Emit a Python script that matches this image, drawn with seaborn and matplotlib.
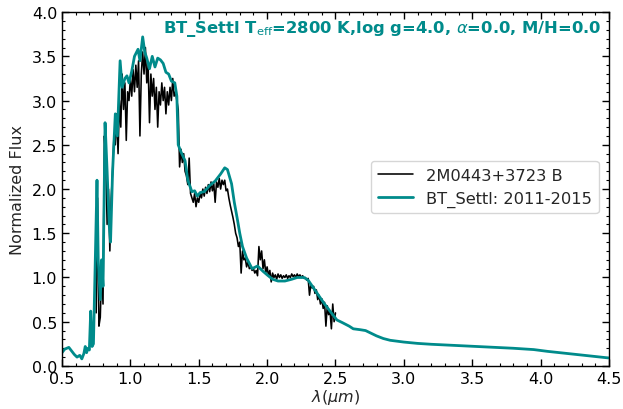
import numpy as np
import pandas as pd
import matplotlib
matplotlib.use("Agg")
import matplotlib.pyplot as plt
import seaborn as sns
from matplotlib.ticker import MultipleLocator

# ---- data ----
obs_label = "2M0443+3723 B"
model_label = "BT_Settl: 2011-2015"
obs_start = 0.75
obs_step = 0.01
obs_flux = [
    0.60, 1.90, 0.45, 0.55, 1.10, 0.70, 2.60, 2.30, 1.60, 2.00,   # 0.75-0.84
    1.30, 1.90, 2.20, 2.60, 2.50, 2.85, 2.40, 3.00, 2.70, 3.30,   # 0.85-0.94
    2.90, 3.20, 2.55, 3.10, 3.00, 3.25, 3.05, 3.35, 3.10, 3.40,   # 0.95-1.04
    3.15, 3.45, 2.60, 3.30, 3.55, 3.30, 3.60, 3.20, 3.40, 2.75,   # 1.05-1.14
    3.30, 3.05, 3.25, 2.90, 3.15, 2.70, 3.10, 2.95, 3.20, 3.00,   # 1.15-1.24
    3.15, 2.85, 3.10, 2.95, 3.15, 3.00, 3.25, 3.05, 3.10, 3.00,   # 1.25-1.34
    2.90, 2.25, 2.45, 2.30, 2.40, 2.20, 2.15, 2.05, 2.35, 1.95,   # 1.35-1.44
    1.90, 1.85, 1.95, 1.80, 1.90, 1.85, 1.95, 1.90, 2.00, 1.92,   # 1.45-1.54
    2.02, 1.95, 2.05, 1.97, 2.08, 1.98, 2.06, 1.85, 2.08, 2.02,   # 1.55-1.64
    2.12, 2.00, 2.10, 2.05, 2.10, 1.98, 2.00, 1.90, 1.82, 1.75,   # 1.65-1.74
    1.68, 1.60, 1.50, 1.45, 1.35, 1.40, 1.05, 1.30, 1.20, 1.22,   # 1.75-1.84
    1.12, 1.18, 1.10, 1.12, 1.08, 1.10, 1.05, 1.08, 1.02, 1.35,   # 1.85-1.94
    1.20, 1.30, 1.10, 1.20, 1.05, 1.12, 1.02, 1.08, 0.95, 1.05,   # 1.95-2.04
    1.00, 1.03, 0.98, 1.04, 1.00, 1.03, 0.99, 1.02, 1.00, 1.03,   # 2.05-2.14
    0.99, 1.02, 1.00, 1.04, 1.01, 1.03, 1.00, 1.04, 1.01, 1.03,   # 2.15-2.24
    1.00, 1.02, 0.99, 1.00, 0.97, 0.99, 0.80, 0.92, 0.88, 0.90,   # 2.25-2.34
    0.82, 0.86, 0.75, 0.80, 0.70, 0.76, 0.65, 0.72, 0.45, 0.68,   # 2.35-2.44
    0.58, 0.62, 0.42, 0.70, 0.50, 0.60,                           # 2.45-2.50
]

model_wave = [
    0.50, 0.52, 0.55, 0.57, 0.59, 0.61, 0.63, 0.645, 0.66, 0.67,
    0.68, 0.69, 0.70, 0.71, 0.72, 0.73, 0.745, 0.756, 0.765, 0.78,
    0.79, 0.80, 0.815, 0.83, 0.845, 0.855, 0.87, 0.89, 0.905, 0.925,
    0.94, 0.96, 0.975, 0.99, 1.01, 1.03, 1.056, 1.07, 1.09, 1.105,
    1.12, 1.14, 1.16, 1.18, 1.20, 1.22, 1.24, 1.26, 1.28, 1.30,
    1.325, 1.34, 1.35, 1.37, 1.40, 1.42, 1.45, 1.47, 1.49, 1.51,
    1.54, 1.58, 1.62, 1.66, 1.69, 1.71, 1.74, 1.76, 1.78, 1.80,
    1.82, 1.85, 1.89, 1.93, 1.97, 2.00, 2.04, 2.08, 2.13, 2.18,
    2.22, 2.27, 2.30, 2.34, 2.38, 2.42, 2.46, 2.51, 2.55, 2.60,
    2.63, 2.68, 2.72, 2.76, 2.80, 2.85, 2.90, 3.00, 3.10, 3.20,
    3.40, 3.60, 3.80, 3.95, 4.05, 4.20, 4.35, 4.50,
]
model_flux = [
    0.15, 0.19, 0.21, 0.17, 0.13, 0.10, 0.12, 0.08, 0.14, 0.22,
    0.15, 0.20, 0.18, 0.62, 0.22, 0.25, 1.30, 2.10, 1.20, 0.75,
    1.20, 0.90, 2.75, 2.20, 1.60, 1.40, 2.20, 2.85, 2.60, 3.45,
    3.15, 3.25, 3.28, 3.20, 3.33, 3.50, 3.58, 3.45, 3.72, 3.55,
    3.48, 3.36, 3.50, 3.38, 3.48, 3.46, 3.42, 3.32, 3.30, 3.22,
    3.20, 3.05, 2.50, 2.42, 2.32, 2.10, 1.97, 1.98, 1.92, 1.96,
    1.97, 2.04, 2.09, 2.17, 2.24, 2.22, 2.06, 1.85, 1.68, 1.50,
    1.35, 1.22, 1.10, 1.13, 1.07, 1.03, 0.98, 0.96, 0.96, 0.98,
    1.00, 1.00, 0.97, 0.88, 0.79, 0.70, 0.62, 0.52, 0.49, 0.45,
    0.42, 0.41, 0.40, 0.37, 0.34, 0.31, 0.29, 0.27, 0.255, 0.245,
    0.23, 0.215, 0.20, 0.185, 0.165, 0.14, 0.115, 0.09,
]

title = r"BT_Settl T$_{\rm eff}$=2800 K,log g=4.0, $\alpha$=0.0, M/H=0.0"
xlabel = r"$\lambda (\mu m)$"
ylabel = "Normalized Flux"

# ---- plot ----
teal = "#008b8b"
sns.set_style("ticks")
plt.rcParams["font.family"] = ["DejaVu Sans"]
plt.rcParams["mathtext.fontset"] = "dejavusans"

obs_wave = obs_start + obs_step * np.arange(len(obs_flux))
df_obs = pd.DataFrame({"wave": obs_wave, "flux": obs_flux})
df_mod = pd.DataFrame({"wave": model_wave, "flux": model_flux})

fig = plt.figure(figsize=(6.23, 4.10), dpi=100)
ax = fig.add_axes([0.0995, 0.105, 0.878, 0.863])

sns.lineplot(data=df_obs, x="wave", y="flux", ax=ax, color="black",
             linewidth=1.15, estimator=None, sort=False, label=obs_label)
sns.lineplot(data=df_mod, x="wave", y="flux", ax=ax, color=teal,
             linewidth=2.0, estimator=None, sort=False, label=model_label)

ax.set_xlim(0.5, 4.5)
ax.set_ylim(0.0, 4.0)
ax.xaxis.set_major_locator(MultipleLocator(0.5))
ax.xaxis.set_minor_locator(MultipleLocator(0.1))
ax.yaxis.set_major_locator(MultipleLocator(0.5))
ax.yaxis.set_minor_locator(MultipleLocator(0.1))
ax.tick_params(which="both", direction="in", top=True, right=True,
               bottom=True, left=True, labelsize=11.5, colors="black")
ax.tick_params(which="major", length=5, width=1)
ax.tick_params(which="minor", length=2.5, width=0.8)
for s in ax.spines.values():
    s.set_visible(True)
    s.set_color("black")
    s.set_linewidth(1.0)

ax.set_xlabel(xlabel, fontsize=11.5, labelpad=1)
ax.set_ylabel(ylabel, fontsize=11.5, labelpad=5)

ax.text(0.987, 0.982, title, transform=ax.transAxes, ha="right", va="top",
        color=teal, fontsize=11.8, fontweight="bold")

ax.legend(loc="center right", bbox_to_anchor=(0.996, 0.505), fontsize=11.7,
          frameon=True, handlelength=2.2)

fig.savefig("out.png", dpi=100)
